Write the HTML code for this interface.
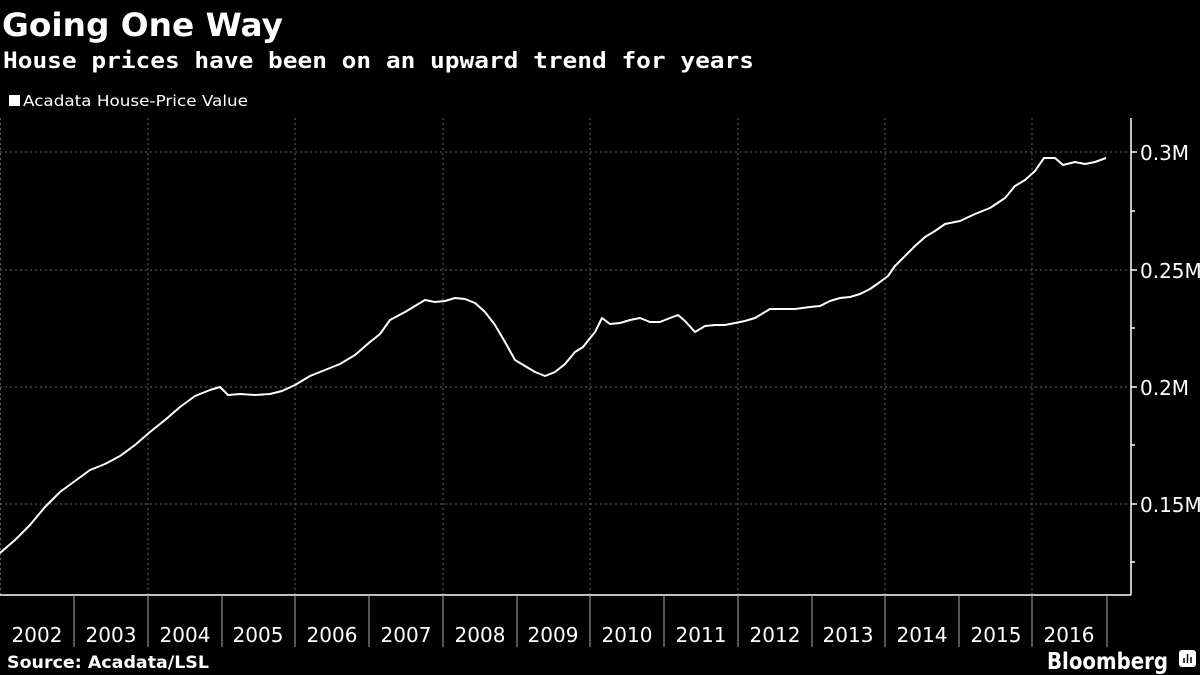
<!DOCTYPE html>
<html><head><style>
body{margin:0;background:#000;width:1200px;height:675px;overflow:hidden;font-family:"DejaVu Sans","Liberation Sans",sans-serif;color:#fff}
</style></head><body>
<svg width="1200" height="675" xmlns="http://www.w3.org/2000/svg" style="position:absolute;left:0;top:0" font-family="DejaVu Sans, Liberation Sans, sans-serif">
<text x="2" y="36" font-size="32" font-weight="bold" fill="#fff" textLength="281" lengthAdjust="spacingAndGlyphs">Going One Way</text>
<text x="3" y="68" font-size="22" font-weight="bold" fill="#fff" font-family="DejaVu Sans Mono, monospace" textLength="751" lengthAdjust="spacingAndGlyphs">House prices have been on an upward trend for years</text>
<rect x="9" y="95" width="11" height="11" fill="#fff"/>
<text x="23" y="106" font-size="15" fill="#fff" textLength="225" lengthAdjust="spacingAndGlyphs">Acadata House-Price Value</text>
<g stroke="#666" stroke-dasharray="2,3" stroke-width="1">
<line x1="0" y1="152" x2="1131" y2="152"/><line x1="0" y1="270" x2="1131" y2="270"/>
<line x1="0" y1="387" x2="1131" y2="387"/><line x1="0" y1="504" x2="1131" y2="504"/>
<line x1="0.5" y1="118" x2="0.5" y2="595"/><line x1="148" y1="118" x2="148" y2="595"/>
<line x1="295" y1="118" x2="295" y2="595"/><line x1="443" y1="118" x2="443" y2="595"/>
<line x1="590" y1="118" x2="590" y2="595"/><line x1="738" y1="118" x2="738" y2="595"/>
<line x1="885" y1="118" x2="885" y2="595"/><line x1="1032" y1="118" x2="1032" y2="595"/>
</g>
<g stroke="#fff" stroke-width="1.5">
<line x1="0" y1="595" x2="1131" y2="595"/><line x1="1131" y1="118" x2="1131" y2="595"/>
<line x1="1131" y1="152" x2="1137" y2="152"/><line x1="1131" y1="211" x2="1135" y2="211"/>
<line x1="1131" y1="270" x2="1137" y2="270"/><line x1="1131" y1="328" x2="1135" y2="328"/>
<line x1="1131" y1="387" x2="1137" y2="387"/><line x1="1131" y1="445" x2="1135" y2="445"/>
<line x1="1131" y1="504" x2="1137" y2="504"/><line x1="1131" y1="562" x2="1135" y2="562"/>
</g>
<g stroke="#aaa" stroke-width="1">
<line x1="74" y1="595" x2="74" y2="647"/><line x1="148" y1="595" x2="148" y2="647"/><line x1="222" y1="595" x2="222" y2="647"/><line x1="295" y1="595" x2="295" y2="647"/><line x1="369" y1="595" x2="369" y2="647"/><line x1="443" y1="595" x2="443" y2="647"/><line x1="517" y1="595" x2="517" y2="647"/><line x1="590" y1="595" x2="590" y2="647"/><line x1="664" y1="595" x2="664" y2="647"/><line x1="738" y1="595" x2="738" y2="647"/><line x1="812" y1="595" x2="812" y2="647"/><line x1="885" y1="595" x2="885" y2="647"/><line x1="959" y1="595" x2="959" y2="647"/><line x1="1032" y1="595" x2="1032" y2="647"/><line x1="1107" y1="595" x2="1107" y2="647"/>
</g>
<g font-size="20" fill="#fff">
<text x="1140" y="160">0.3M</text><text x="1140" y="278">0.25M</text><text x="1140" y="395">0.2M</text><text x="1140" y="512">0.15M</text>
</g>
<g font-size="20" fill="#fff" text-anchor="middle">
<text x="37" y="642">2002</text><text x="111" y="642">2003</text><text x="185" y="642">2004</text><text x="258" y="642">2005</text><text x="332" y="642">2006</text><text x="406" y="642">2007</text><text x="480" y="642">2008</text><text x="553" y="642">2009</text><text x="627" y="642">2010</text><text x="701" y="642">2011</text><text x="775" y="642">2012</text><text x="848" y="642">2013</text><text x="922" y="642">2014</text><text x="996" y="642">2015</text><text x="1069" y="642">2016</text>
</g>
<polyline fill="none" stroke="#fff" stroke-width="2" stroke-linejoin="round" points="0,553 15,540 30,525 45,507 60,492 75,481 90,470 105,464 120,456 135,445 150,432 165,420 180,407 195,396 210,390 220,387 228,395 240,394 255,395 270,394 282,391 295,385 310,376 325,370 340,364 355,355 370,342 380,334 390,320 405,312 415,306 425,300 435,302 445,301 455,298 465,299 475,303 485,312 495,325 505,342 515,360 525,366 535,372 545,376 555,372 565,364 575,352 583,347 595,332 602,318 610,324 620,323 630,320 640,318 650,322 660,322 670,318 678,315 685,321 695,332 705,326 715,325 725,325 735,323 745,321 755,318 765,312 770,309 780,309 795,309 810,307 820,306 830,301 840,298 850,297 860,294 870,289 880,282 888,276 895,266 905,256 915,246 925,237 935,231 945,224 960,221 975,214 990,208 1005,198 1015,186 1025,180 1035,171 1044,158 1055,158 1063,165 1075,162 1085,164 1095,162 1106,158"/>
<text x="7" y="668" font-size="17" font-weight="bold" fill="#fff" textLength="202" lengthAdjust="spacingAndGlyphs">Source: Acadata/LSL</text>
<text x="1047" y="669" font-size="23" font-weight="bold" fill="#fff" textLength="121" lengthAdjust="spacingAndGlyphs">Bloomberg</text>
<rect x="1179" y="650" width="17" height="17" rx="3" fill="#fff"/>
<g stroke="#000" stroke-width="1.5"><line x1="1184" y1="663" x2="1184" y2="658"/><line x1="1187.5" y1="663" x2="1187.5" y2="654"/><line x1="1191" y1="663" x2="1191" y2="657"/></g>
</svg>
</body></html>
